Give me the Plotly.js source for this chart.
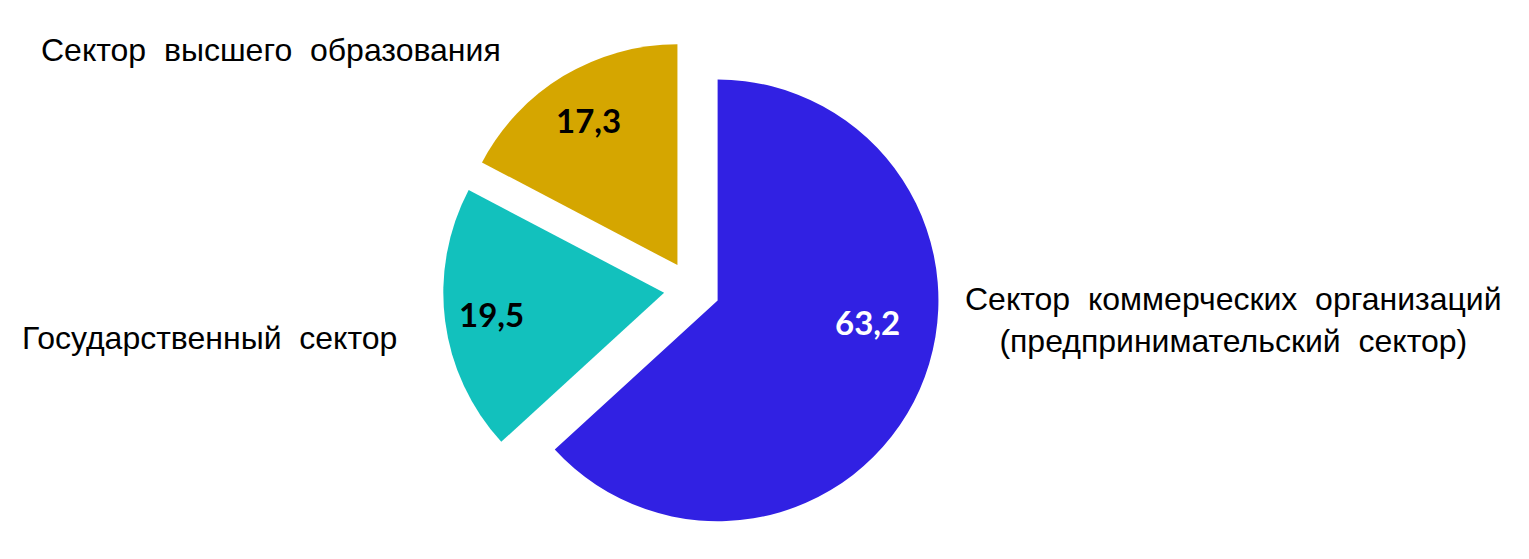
<!DOCTYPE html>
<html>
<head>
<meta charset="utf-8">
<script src="https://cdn.plot.ly/plotly-3.0.1.min.js"></script>
<style>html,body{margin:0;padding:0;background:#fff}#chart{width:1529px;height:559px}</style>
</head>
<body>
<div id="chart"></div>
<script>
var categories = ["Сектор коммерческих организаций<br>(предпринимательский сектор)", "Государственный сектор", "Сектор высшего образования"];
var values = [63.2, 19.5, 17.3];
var colors = ["#3121E3", "#12C1BD", "#D5A600"];
var valueTextColors = ["#ffffff", "#000000", "#000000"];

function wide(s) { return s.replace(/ /g, "\u00A0 "); }
function fmt(v) { return v.toFixed(1).replace(".", ","); }

var trace = {
  type: "pie",
  labels: categories,
  values: values,
  sort: false,
  direction: "clockwise",
  rotation: 0,
  pull: [0.127, 0.127, 0.127],
  marker: {colors: colors, line: {width: 0}},
  textinfo: "none",
  hoverinfo: "none",
  domain: {x: [0.2897, 0.6154], y: [0.0376, 0.928]},
  showlegend: false
};

var labelFont = {family: "'Liberation Sans', Arial, sans-serif", size: 32, color: "#000"};
var valueFontBase = {family: "Lato, 'Open Sans', sans-serif", size: 33, weight: "bold"};
function vf(i) { return Object.assign({}, valueFontBase, {color: valueTextColors[i]}); }

var annotations = [
  {text: wide(categories[0]), x: 1233 / 1529, y: 1 - 320 / 559, xref: "paper", yref: "paper", showarrow: false, font: labelFont, align: "center", xanchor: "center", yanchor: "middle"},
  {text: wide(categories[1]), x: 209 / 1529, y: 1 - 338 / 559, xref: "paper", yref: "paper", showarrow: false, font: labelFont, xanchor: "center", yanchor: "middle"},
  {text: wide(categories[2]), x: 271 / 1529, y: 1 - 50 / 559, xref: "paper", yref: "paper", showarrow: false, font: labelFont, xanchor: "center", yanchor: "middle"},
  {text: fmt(values[0]), x: 867 / 1529, y: 1 - 322 / 559, xref: "paper", yref: "paper", showarrow: false, font: vf(0), xanchor: "center", yanchor: "middle"},
  {text: fmt(values[1]), x: 492 / 1529, y: 1 - 314 / 559, xref: "paper", yref: "paper", showarrow: false, font: vf(1), xanchor: "center", yanchor: "middle"},
  {text: fmt(values[2]), x: 588 / 1529, y: 1 - 120 / 559, xref: "paper", yref: "paper", showarrow: false, font: vf(2), xanchor: "center", yanchor: "middle"}
];

var layout = {
  width: 1529, height: 559,
  margin: {l: 0, r: 0, t: 0, b: 0},
  paper_bgcolor: "#ffffff",
  separators: ", ",
  annotations: annotations,
  showlegend: false
};

Plotly.newPlot("chart", [trace], layout, {displayModeBar: false, staticPlot: true});
</script>
</body>
</html>
